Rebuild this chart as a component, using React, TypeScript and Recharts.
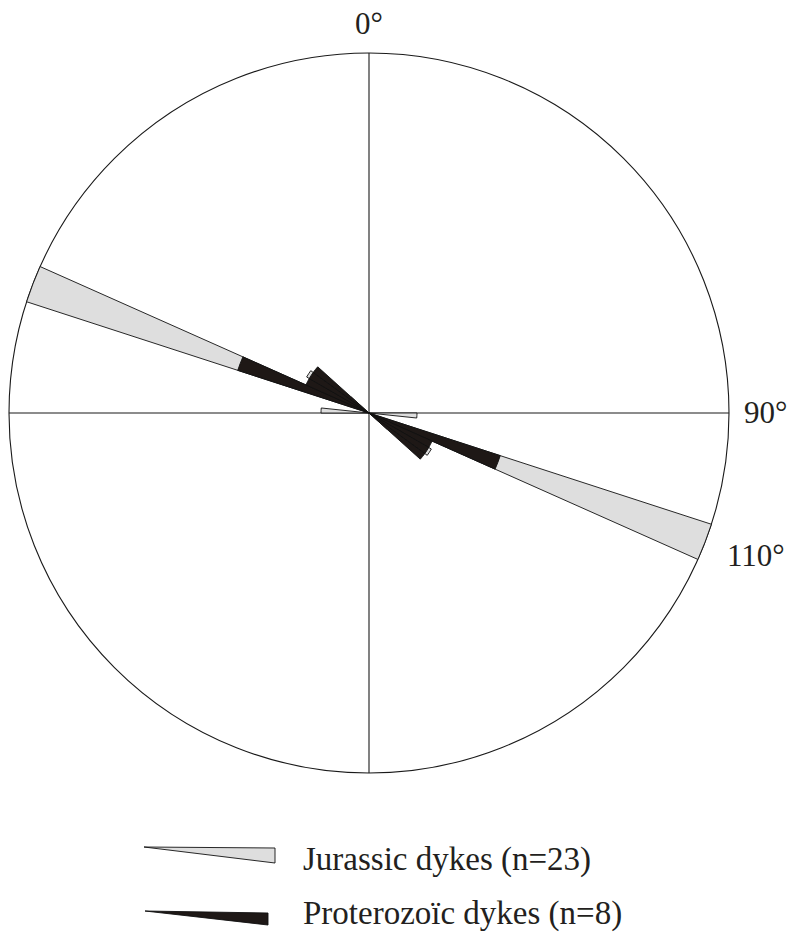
import { Legend, PolarAngleAxis, PolarGrid, PolarRadiusAxis, RadialBar, RadialBarChart } from 'recharts';

// Strike classes, 6° wide, over 0–180°. Dykes are axial, so each class is repeated at +180°.
const binStarts = Array.from({ length: 30 }, (_, i) => i * 6);

// Number of dykes per class
const jurassicCounts = [
  0, 0, 0, 0, 0, 0, 0, 0, 0, 0,
  0, 0, 0, 0, 0, 2, 0, 0, 15, 2,
  3, 1, 0, 0, 0, 0, 0, 0, 0, 0,
];
const proterozoicCounts = [
  0, 0, 0, 0, 0, 0, 0, 0, 0, 0,
  0, 0, 0, 0, 0, 0, 0, 0, 2, 1,
  1, 1, 0, 0, 0, 0, 0, 0, 0, 0,
];
const JURASSIC_N = 23;
const PROTEROZOIC_N = 8;

const legendItems = [
  { label: 'Jurassic dykes (n=23)', fill: '#dedede' },
  { label: 'Proterozoïc dykes (n=8)', fill: '#1e1816' },
];

// petals in % of each population, mirrored onto the opposite direction
const rows = [...binStarts, ...binStarts.map((b) => b + 180)].map((start, i) => ({
  bin: `${start}°`,
  jurassic: (jurassicCounts[i % 30] / JURASSIC_N) * 100,
  proterozoic: (proterozoicCounts[i % 30] / PROTEROZOIC_N) * 100,
}));
const maxPct = Math.max(...rows.map((r) => r.jurassic), ...rows.map((r) => r.proterozoic));

const CX = 369;
const CY = 413;
const R = 360;
const serif = '"Liberation Serif", "Times New Roman", serif';

function LegendBox() {
  return (
    <svg width={793} height={116}>
      <polygon points="144,27 275,28 275,43" fill={legendItems[0].fill} stroke="#111" strokeWidth={0.9} />
      <text x={303} y={50} fontFamily={serif} fontSize={33} fill="#231f20">{legendItems[0].label}</text>
      <polygon points="145,91 268,93 268,105" fill={legendItems[1].fill} stroke="#111" strokeWidth={0.9} />
      <text x={303} y={104} fontFamily={serif} fontSize={33} fill="#231f20">{legendItems[1].label}</text>
    </svg>
  );
}

export default function App() {
  return (
    <div style={{ position: 'absolute', left: 0, top: 0, width: 793, height: 936, background: '#fff' }}>
      {/* clockwise from north; class i spans bearings 6i..6i+6 */}
      <RadialBarChart
        width={793}
        height={936}
        data={rows}
        layout="centric"
        cx={CX}
        cy={CY}
        innerRadius={0}
        outerRadius={R}
        startAngle={84}
        endAngle={-276}
        barCategoryGap={0}
        barGap={0}
        margin={{ top: 0, right: 0, bottom: 0, left: 0 }}
      >
        <PolarGrid gridType="circle" polarAngles={[0, 90, 180, 270]} polarRadius={[R]} stroke="#1a1a1a" strokeWidth={1.1} />
        <PolarAngleAxis angleAxisId={0} dataKey="bin" type="category" tick={false} tickLine={false} axisLine={false} />
        <PolarAngleAxis angleAxisId={1} dataKey="bin" type="category" tick={false} tickLine={false} axisLine={false} />
        <PolarRadiusAxis radiusAxisId={0} type="number" domain={[0, maxPct]} tick={false} axisLine={false} />
        <RadialBar angleAxisId={0} dataKey="jurassic" fill="#dedede" stroke="#111" strokeWidth={0.9} isAnimationActive={false} />
        <RadialBar angleAxisId={1} dataKey="proterozoic" fill="#1e1816" stroke="#111" strokeWidth={0.9} isAnimationActive={false} />
        <text x={CX} y={34} textAnchor="middle" fontFamily={serif} fontSize={31} fill="#231f20">0°</text>
        <text x={744} y={423} fontFamily={serif} fontSize={31} fill="#231f20">90°</text>
        <text x={727} y={566} fontFamily={serif} fontSize={31} fill="#231f20">110°</text>
        <Legend
          content={() => <LegendBox />}
          wrapperStyle={{ position: 'absolute', left: 0, top: 820, width: 793, height: 116 }}
        />
      </RadialBarChart>
    </div>
  );
}
